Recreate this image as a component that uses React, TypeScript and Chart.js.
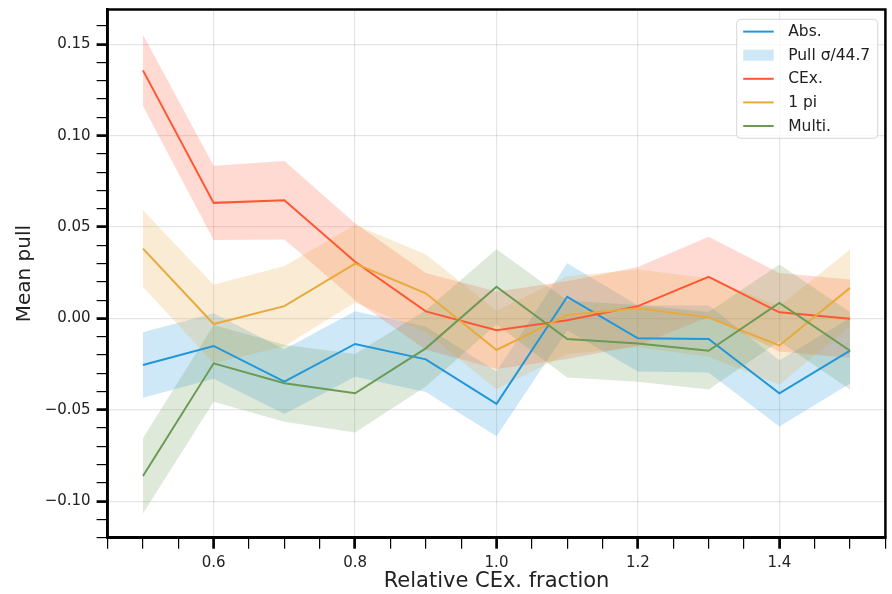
import React, { useEffect, useRef } from "react";
import { Chart, registerables } from "chart.js";

Chart.register(...registerables);

// Relative CEx. fraction (x positions of every point)
const fractions = [0.5, 0.6, 0.7, 0.8, 0.9, 1.0, 1.1, 1.2, 1.3, 1.4, 1.5];

// Mean pull per interaction channel
const absMean = [-0.0255, -0.0151, -0.0346, -0.014, -0.0224, -0.0468, 0.0118, -0.0109, -0.0113, -0.041, -0.0177];
const cexMean = [0.1357, 0.0632, 0.0646, 0.031, 0.0038, -0.0065, -0.001, 0.0067, 0.0227, 0.0033, -0.0002];
const onePiMean = [0.0382, -0.0031, 0.0067, 0.03, 0.0137, -0.0173, 0.0018, 0.0055, 0.0005, -0.0148, 0.0167];
const multiMean = [-0.0862, -0.0246, -0.0355, -0.041, -0.0164, 0.0173, -0.0113, -0.0137, -0.0177, 0.0085, -0.0177];

// Pull width per channel; the shaded band is mean ± sigma / SIGMA_DIVISOR
const absSigma = [0.8, 0.8, 0.79, 0.8, 0.8, 0.79, 0.82, 0.81, 0.82, 0.81, 0.8];
const cexSigma = [0.87, 0.91, 0.96, 0.94, 0.94, 0.95, 0.95, 0.96, 0.98, 0.96, 0.96];
const onePiSigma = [0.94, 0.96, 0.98, 0.95, 0.95, 0.96, 0.95, 0.95, 0.96, 0.96, 0.94];
const multiSigma = [0.92, 0.94, 0.94, 0.96, 0.93, 0.92, 0.94, 0.94, 0.95, 0.94, 0.95];
const SIGMA_DIVISOR = 44.7;

// Labelled tick positions
const xMajorTicks = [0.6, 0.8, 1.0, 1.2, 1.4];
const yMajorTicks = [-0.1, -0.05, 0.0, 0.05, 0.1, 0.15];

const FONT = '"DejaVu Sans", "Liberation Sans", sans-serif';
const TEXT = "#222222";

const series = [
  { label: "Abs.", mean: absMean, sigma: absSigma, line: "rgb(33,150,217)", band: "rgba(33,150,217,0.22)" },
  { label: "CEx.", mean: cexMean, sigma: cexSigma, line: "rgb(255,87,51)", band: "rgba(255,87,51,0.22)" },
  { label: "1 pi", mean: onePiMean, sigma: onePiSigma, line: "rgb(232,170,60)", band: "rgba(232,170,60,0.22)" },
  { label: "Multi.", mean: multiMean, sigma: multiSigma, line: "rgb(107,154,85)", band: "rgba(107,154,85,0.22)" },
];

const legendEntries = [
  { label: series[0].label, kind: "line", color: series[0].line },
  { label: `Pull σ/${SIGMA_DIVISOR}`, kind: "patch", color: series[0].band },
  { label: series[1].label, kind: "line", color: series[1].line },
  { label: series[2].label, kind: "line", color: series[2].line },
  { label: series[3].label, kind: "line", color: series[3].line },
];

const isMajor = (list: number[], v: number) => list.some((t) => Math.abs(t - v) < 1e-6);
const fmt = (v: number, d: number) => (Math.abs(v) < 1e-9 ? 0 : v).toFixed(d).replace("-", "\u2212");

// Closed frame around the plotting area
const framePlugin = {
  id: "frame",
  afterDatasetsDraw(chart: any) {
    const { ctx, chartArea: a } = chart;
    ctx.save();
    ctx.strokeStyle = "#000";
    ctx.lineWidth = 2.5;
    ctx.strokeRect(a.left, a.top, a.right - a.left, a.bottom - a.top);
    ctx.restore();
  },
};

// Boxed legend in the upper right corner of the plotting area
const boxLegendPlugin = {
  id: "boxLegend",
  afterDraw(chart: any) {
    const { ctx, chartArea: a } = chart;
    ctx.save();
    ctx.font = `15.5px ${FONT}`;
    const textW = Math.max(...legendEntries.map((e) => ctx.measureText(e.label).width));
    const padX = 6.5, handleLen = 30.5, gap = 14.5, rowH = 23.6, padY = 0.5;
    const w = padX + handleLen + gap + textW + 7.5;
    const h = legendEntries.length * rowH + 2 * padY;
    const right = a.right - 7.7;
    const top = a.top + 9.8;
    const left = right - w;
    const r = 4;
    ctx.beginPath();
    ctx.moveTo(left + r, top);
    ctx.arcTo(right, top, right, top + h, r);
    ctx.arcTo(right, top + h, left, top + h, r);
    ctx.arcTo(left, top + h, left, top, r);
    ctx.arcTo(left, top, right, top, r);
    ctx.closePath();
    ctx.fillStyle = "rgba(255,255,255,0.8)";
    ctx.fill();
    ctx.strokeStyle = "rgba(204,204,204,0.8)";
    ctx.lineWidth = 1;
    ctx.stroke();
    legendEntries.forEach((e, i) => {
      const cy = top + padY + rowH * (i + 0.5);
      const hx = left + padX;
      if (e.kind === "line") {
        ctx.strokeStyle = e.color;
        ctx.lineWidth = 2;
        ctx.beginPath();
        ctx.moveTo(hx, cy);
        ctx.lineTo(hx + handleLen, cy);
        ctx.stroke();
      } else {
        ctx.fillStyle = e.color;
        ctx.fillRect(hx, cy - 5.5, handleLen, 11);
      }
      ctx.fillStyle = TEXT;
      ctx.textBaseline = "middle";
      ctx.textAlign = "left";
      ctx.fillText(e.label, hx + handleLen + gap, cy + 0.5);
    });
    ctx.restore();
  },
};

export default function App() {
  const canvasRef = useRef<HTMLCanvasElement | null>(null);

  useEffect(() => {
    document.body.style.margin = "0";
    document.body.style.overflow = "hidden";
    const canvas = canvasRef.current;
    if (!canvas) return;

    const datasets: any[] = [];
    const n = series.length;
    series.forEach((s, k) => {
      const upper = fractions.map((x, i) => ({ x, y: s.mean[i] + s.sigma[i] / SIGMA_DIVISOR }));
      const lower = fractions.map((x, i) => ({ x, y: s.mean[i] - s.sigma[i] / SIGMA_DIVISOR }));
      datasets.push({
        label: `${s.label} band`,
        data: upper,
        borderWidth: 0,
        borderColor: "rgba(0,0,0,0)",
        backgroundColor: s.band,
        pointRadius: 0,
        fill: "+1",
        tension: 0,
        order: 2 * n - k,
      });
      datasets.push({
        label: `${s.label} band lower`,
        data: lower,
        borderWidth: 0,
        borderColor: "rgba(0,0,0,0)",
        pointRadius: 0,
        fill: false,
        order: 2 * n - k,
      });
    });
    series.forEach((s, k) => {
      datasets.push({
        label: s.label,
        data: fractions.map((x, i) => ({ x, y: s.mean[i] })),
        borderColor: s.line,
        borderWidth: 2,
        pointRadius: 0,
        fill: false,
        tension: 0,
        order: n - k,
      });
    });

    const chart = new Chart(canvas, {
      type: "line",
      data: { datasets },
      options: {
        responsive: false,
        animation: false,
        devicePixelRatio: 1,
        layout: { padding: { left: 0, top: 9.5, right: 6.6, bottom: 0 } },
        plugins: { legend: { display: false }, tooltip: { enabled: false } },
        scales: {
          x: {
            type: "linear",
            min: 0.45,
            max: 1.55,
            border: { color: "#000", width: 2.5 },
            grid: {
              color: (c: any) => (isMajor(xMajorTicks, c.tick.value) ? "rgba(0,0,0,0.1)" : "rgba(0,0,0,0)"),
              lineWidth: 1.2,
              tickLength: 11,
              tickColor: "#000",
              tickWidth: (c: any) => (isMajor(xMajorTicks, c.tick.value) ? 2.7 : 1.2),
            },
            ticks: {
              stepSize: 0.05,
              autoSkip: false,
              maxRotation: 0,
              includeBounds: false,
              padding: 5,
              color: TEXT,
              font: { family: FONT, size: 15 },
              callback: (v: any) => (isMajor(xMajorTicks, Number(v)) ? fmt(Number(v), 1) : ""),
            },
            title: {
              display: true,
              text: "Relative CEx. fraction",
              color: TEXT,
              font: { family: FONT, size: 21, lineHeight: 1.2 },
              padding: { top: 0, bottom: 0 },
            },
            afterFit: (s: any) => {
              s.height = 56.3;
              s.paddingLeft = 0;
              s.paddingRight = 0;
            },
          },
          y: {
            type: "linear",
            min: -0.12,
            max: 0.169,
            border: { color: "#000", width: 2.5 },
            grid: {
              color: (c: any) => (isMajor(yMajorTicks, c.tick.value) ? "rgba(0,0,0,0.1)" : "rgba(0,0,0,0)"),
              lineWidth: 1.2,
              tickLength: 11,
              tickColor: "#000",
              tickWidth: (c: any) => (isMajor(yMajorTicks, c.tick.value) ? 2.7 : 1.2),
            },
            ticks: {
              stepSize: 0.01,
              autoSkip: false,
              includeBounds: false,
              padding: 6,
              color: TEXT,
              font: { family: FONT, size: 15 },
              callback: (v: any) => (isMajor(yMajorTicks, Number(v)) ? fmt(Number(v), 2) : ""),
            },
            title: {
              display: true,
              text: "Mean pull",
              color: TEXT,
              font: { family: FONT, size: 20, lineHeight: 1.2 },
              padding: { top: 13, bottom: 0 },
            },
            afterFit: (s: any) => {
              s.width = 107.6;
              s.paddingTop = 0;
              s.paddingBottom = 0;
            },
          },
        },
      },
      plugins: [framePlugin, boxLegendPlugin],
    });

    return () => chart.destroy();
  }, []);

  return <canvas ref={canvasRef} width={892} height={594} style={{ display: "block" }} />;
}
